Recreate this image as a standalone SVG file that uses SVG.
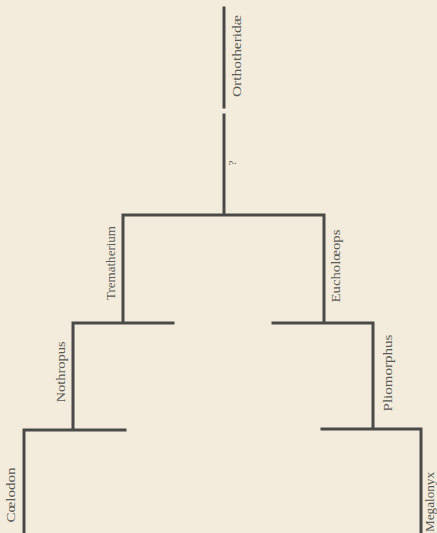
<svg xmlns="http://www.w3.org/2000/svg" width="437" height="533" viewBox="0 0 437 533">
<style>
.ln{stroke:#4a4a48;stroke-width:3;fill:none;stroke-linecap:square}
.lb{font-family:"Liberation Serif","Times New Roman",serif;font-size:13px;fill:#5a5a56;text-anchor:middle}
</style>
<rect width="437" height="533" fill="#f3ecdc"/>
<g id="connectors">
<path class="ln" d="M224 8V107M224 115V215M123 215H324M123 215V323M73 323H173M324 215V323M273 323H373M73 323V430M24 430H125M373 323V429M322 429H421M24 430V533M421 429V533"/>
</g>
<g id="orthotheridae"><text class="lb" transform="translate(241 56) rotate(-90)" textLength="82" lengthAdjust="spacingAndGlyphs">Orthotheridæ</text></g>
<g id="unknown"><text class="lb" transform="translate(236 163) rotate(-90)" style="font-size:11px">?</text></g>
<g id="trematherium"><text class="lb" transform="translate(115 263) rotate(-90)" textLength="74" lengthAdjust="spacingAndGlyphs">Trematherium</text></g>
<g id="eucholoeops"><text class="lb" transform="translate(340 266) rotate(-90)" textLength="73" lengthAdjust="spacingAndGlyphs">Eucholœops</text></g>
<g id="nothropus"><text class="lb" transform="translate(65 372) rotate(-90)" textLength="61" lengthAdjust="spacingAndGlyphs">Nothropus</text></g>
<g id="pliomorphus"><text class="lb" transform="translate(392 373) rotate(-90)" textLength="77" lengthAdjust="spacingAndGlyphs">Pliomorphus</text></g>
<g id="coelodon"><text class="lb" transform="translate(15 495) rotate(-90)" textLength="55" lengthAdjust="spacingAndGlyphs">Cœlodon</text></g>
<g id="megalonyx"><text class="lb" transform="translate(433.5 502) rotate(-90)" textLength="60" lengthAdjust="spacingAndGlyphs">Megalonyx</text></g>
</svg>
